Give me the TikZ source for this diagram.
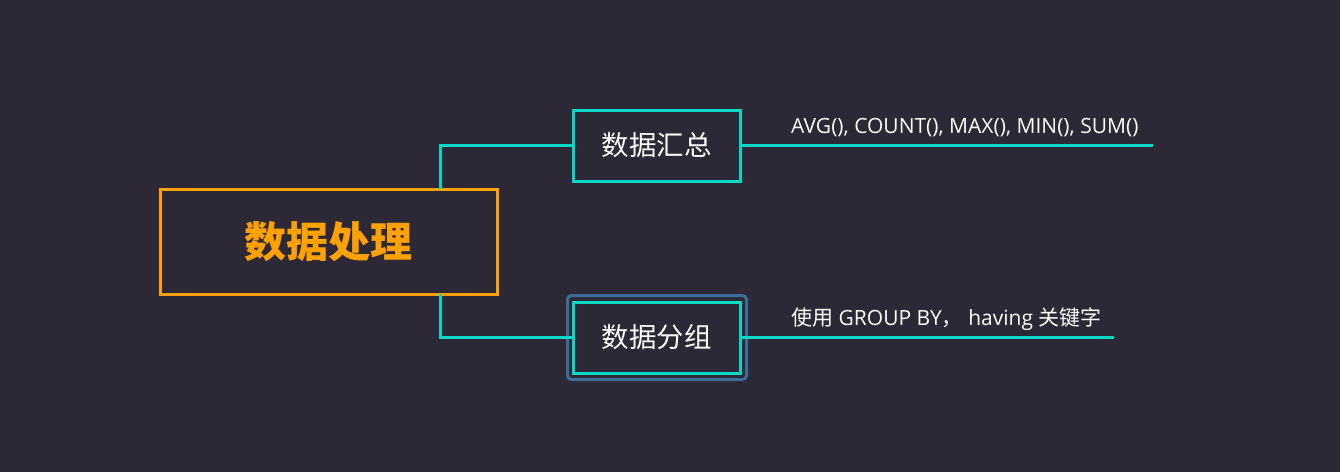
\documentclass[tikz,border=0pt]{standalone}
\usepackage{fontspec}
\setmainfont{Open Sans}
\newfontfamily\cjk{Noto Sans CJK SC}
\definecolor{bg}{HTML}{2D2836}
\definecolor{teal}{HTML}{00D9C5}
\definecolor{orng}{HTML}{FFA100}
\definecolor{hl}{HTML}{3A6E96}
\begin{document}
\begin{tikzpicture}[x=1pt,y=-1pt,
  conn/.style={draw=teal,line width=3pt},
  subbox/.style={draw=teal,line width=3pt,minimum width=167pt,minimum height=71pt,inner sep=0pt,text=white,font=\cjk\fontsize{27.5}{32}\selectfont},
  rootbox/.style={draw=orng,line width=3pt,minimum width=337pt,minimum height=105pt,inner sep=0pt,text=orng,font=\cjk\bfseries\fontsize{42}{48}\selectfont},
  lbl/.style={text=white,inner sep=0pt,anchor=west,font=\fontsize{21}{25}\selectfont}]
\fill[bg] (0,0) rectangle (1340,472);
\useasboundingbox (0,0) rectangle (1340,472);
\node[rootbox] (root) at (328.5,241.5) {数据处理};
\node[subbox] (a) at (656.5,145.5) {数据汇总};
\node[subbox] (b) at (656.5,337.5) {数据分组};
\draw[hl,line width=3pt,rounded corners=4pt] ([shift={(-4,-5)}]b.north west) rectangle ([shift={(5,5)}]b.south east);
\coordinate (ra) at (440,189);
\coordinate (rb) at (440,294);
\draw[conn] (ra) |- (a.west);
\draw[conn] (rb) |- (b.west);
\coordinate (ae) at (1153,145.5);
\coordinate (be) at (1114,337.5);
\draw[conn] (a.east) -- (ae);
\draw[conn] (b.east) -- (be);
\node[lbl] (la) at (791,128) {AVG(), COUNT(), MAX(), MIN(), SUM()};
\node[lbl] (lb) at (791,319) {{\cjk 使用} GROUP BY{\cjk ，} having {\cjk 关键字}};
\end{tikzpicture}
\end{document}
